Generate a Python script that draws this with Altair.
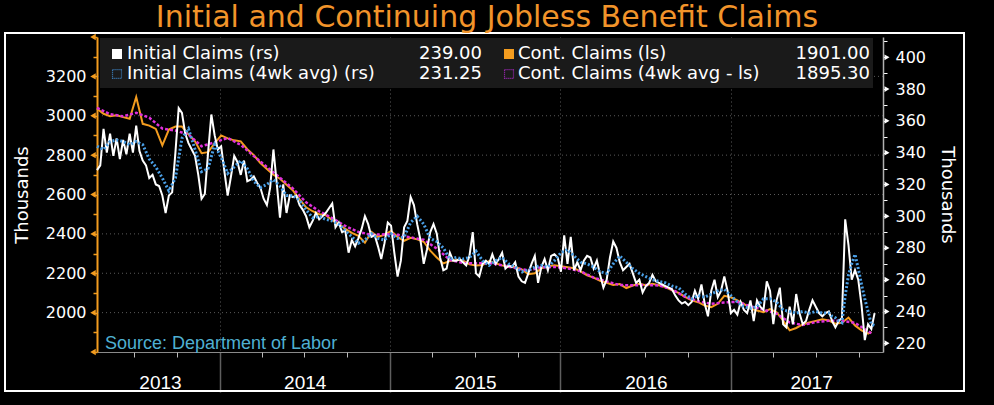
import altair as alt
import pandas as pd

# ---------------- data (thousands) ----------------
START = "2013-04-13"  # first weekly observation

# Initial claims, weekly (right scale)
initial_claims = [
    329, 332, 355, 340, 352, 338, 349, 336, 348, 339,
    352, 340, 357, 341, 335, 332, 324, 326, 320, 319,
    313, 302, 313, 315, 340, 368, 365, 352, 346, 342,
    338, 326, 311, 314, 340, 364, 351, 342, 344, 328,
    313, 325, 338, 334, 326, 335, 322, 323, 325, 321,
    318, 311, 307, 318, 342, 321, 299, 320, 302, 313,
    312, 313,
    307, 304, 300, 293, 297, 302, 298, 300,
    302, 305, 308, 293, 296, 290, 291, 277, 285, 281,
    286, 292, 300, 295, 287, 288, 281, 273, 283, 296,
    294, 277, 262, 272, 293, 297, 312, 307, 295, 285,
    270, 279, 290, 295, 289, 274, 266, 267, 277, 272,
    272, 273, 271, 269, 275, 290, 264, 262, 270,
    272, 270, 276, 270, 273, 277, 267, 269, 268, 271, 262,
    259, 258, 264, 270, 275, 258, 268, 273, 266, 275,
    276, 274, 265, 288, 270, 287, 266, 271, 266, 272,
    275, 274, 267, 272, 263, 255, 260, 274, 284, 280,
    271, 266, 268, 270, 264, 258, 260, 252, 256, 258,
    263, 259, 258, 257, 256, 255, 254, 250, 247, 245,
    246,
    244, 246, 253, 248, 257, 245, 237, 253, 260, 249,
    253, 262, 253, 239, 241, 238, 246, 241, 239, 247,
    234, 247, 243, 241, 259, 253, 232, 247, 255, 232,
    230, 243, 232, 251, 239, 232, 234, 241, 247, 243,
    239, 237, 239, 240, 234, 230, 234, 236, 298, 282,
    260, 266, 260, 244, 222, 232, 229, 239,
]

# Initial claims 4-week average: every 2 weeks, then weekly for the last 14 weeks
initial_avg_biweekly = [
    344, 342, 347, 348, 347, 345, 347, 345, 336, 331,
    324, 316, 324, 349, 355, 342, 328, 330, 345, 337,
    327, 331, 335, 330, 322, 318, 320, 323, 319, 313,
    313, 310, 304, 299, 300, 298, 297, 295, 291, 287,
    283, 285, 289, 286, 285, 289, 286, 287, 296, 300,
    295, 286, 284, 280, 273, 274, 273, 274, 278, 272,
    269, 272, 274, 270, 268, 265, 266, 268, 269, 268,
    272, 277, 279, 275, 271, 270, 268, 265, 264, 270,
    275, 271, 267, 264, 262, 260, 259, 258, 256, 255,
    251, 248, 250, 249, 251, 253, 254, 250, 246, 243,
    242, 243, 248, 248, 246, 241, 240, 239, 240, 239,
    240, 239, 239,
]
initial_avg_tail = [237, 236, 234, 233, 250, 263, 270, 276, 267, 257, 248, 240, 232, 231.25]

# Continuing claims: every 2 weeks, plus the latest week (left scale)
cont_claims_biweekly = [
    3036, 3010, 2998, 3002, 2993, 2985, 3095, 2959, 2950, 2933,
    2850, 2930, 2945, 2945, 2905, 2870, 2810, 2815, 2860, 2900,
    2885, 2875, 2870, 2830, 2800, 2760, 2730, 2700, 2680, 2650,
    2620, 2575, 2535, 2515, 2500, 2495, 2470, 2450, 2425, 2405,
    2390, 2355, 2410, 2385, 2395, 2415, 2385, 2365, 2380, 2372,
    2360, 2315, 2280, 2250, 2262, 2268, 2265, 2245, 2240, 2242,
    2262, 2250, 2240, 2232, 2232, 2220, 2195, 2200, 2225, 2235,
    2240, 2235, 2230, 2225, 2210, 2190, 2178, 2162, 2152, 2140,
    2145, 2125, 2138, 2147, 2139, 2147, 2139, 2130, 2113, 2100,
    2080, 2062, 2053, 2036, 2028, 2045, 2085, 2078, 2062, 2045,
    2020, 2011, 2002, 2018, 2002, 1960, 1910, 1922, 1940, 1950,
    1958, 1966, 1960, 1944, 1948, 1975, 1935, 1910, 1893,
]
cont_claims_last = 1901.0

# Continuing claims 4-week average: every 4 weeks, plus the latest week
cont_avg_4weekly = [
    3040, 3008, 2997, 3015, 2990, 2935, 2925, 2905, 2845, 2865,
    2887, 2852, 2795, 2740, 2685, 2630, 2560, 2515, 2480, 2440,
    2410, 2395, 2398, 2395, 2382, 2370, 2325, 2268, 2252, 2250,
    2252, 2241, 2226, 2215, 2230, 2232, 2225, 2210, 2178, 2158,
    2140, 2139, 2140, 2138, 2118, 2080, 2058, 2045, 2052, 2055,
    2032, 2015, 1995, 1950, 1937, 1952, 1959, 1958, 1948, 1905,
]
cont_avg_last = 1895.3

chart_title = "Initial and Continuing Jobless Benefit Claims"
source_note = "Source: Department of Labor"
legend_names = ["Initial Claims (rs)", "Cont. Claims (ls)",
                "Initial Claims (4wk avg) (rs)", "Cont. Claims (4wk avg - ls)"]
legend_values = ["239.00", "1901.00", "231.25", "1895.30"]

year_label_dates = ["2013-08-26", "2014-07-02", "2015-07-02", "2016-07-02", "2017-06-21"]
year_start_dates = ["2014-01-01", "2015-01-01", "2016-01-01", "2017-01-01"]
quarter_dates = ["2013-07-01", "2013-10-01",
                 "2014-04-01", "2014-07-01", "2014-10-01",
                 "2015-04-01", "2015-07-01", "2015-10-01",
                 "2016-04-01", "2016-07-01", "2016-10-01",
                 "2017-04-01", "2017-07-01", "2017-10-01"]
x_domain = ["2013-04-13", "2017-11-22"]

left_ticks = list(range(1800, 3401, 100))
left_major = list(range(1800, 3401, 200))
left_grid = list(range(2000, 3201, 200))
left_domain = [1800, 3400]
right_ticks = list(range(220, 411, 10))
right_major = list(range(220, 401, 20))
right_domain = [214.5, 412.8]

# ---------------- styling ----------------
ORANGE = "#f39c1f"
WHITE = "#ffffff"
BLUE = "#4a9fe6"
MAGENTA = "#e030dc"
TITLE_ORANGE = "#f2942a"
SOURCE_BLUE = "#4fb0d2"
FONT = "DejaVu Sans"
W, H = 786, 315


def dt(s):
    y, m, d = (int(p) for p in s.split("-"))
    return alt.DateTime(year=y, month=m, date=d)


start = pd.Timestamp(START)
df_init = pd.DataFrame({"date": pd.date_range(start, periods=len(initial_claims), freq="7D"),
                        "value": initial_claims})
avg_dates = list(pd.date_range(start, periods=len(initial_avg_biweekly), freq="14D")) + \
    list(pd.date_range(start + pd.Timedelta(weeks=238 - len(initial_avg_tail) + 1),
                       periods=len(initial_avg_tail), freq="7D"))
df_init_avg = pd.DataFrame({"date": avg_dates, "value": initial_avg_biweekly + initial_avg_tail})
cont_dates = list(pd.date_range(start, periods=len(cont_claims_biweekly), freq="14D")) + \
    [start + pd.Timedelta(weeks=237)]
df_cont = pd.DataFrame({"date": cont_dates, "value": cont_claims_biweekly + [cont_claims_last]})
cavg_dates = list(pd.date_range(start, periods=len(cont_avg_4weekly), freq="28D")) + \
    [start + pd.Timedelta(weeks=237)]
df_cont_avg = pd.DataFrame({"date": cavg_dates, "value": cont_avg_4weekly + [cont_avg_last]})

one = pd.DataFrame({"a": [0]})

xscale = alt.Scale(domain=[dt(s) for s in x_domain])
yl_scale = alt.Scale(domain=left_domain, nice=False, zero=False)
yr_scale = alt.Scale(domain=right_domain, nice=False, zero=False)

axis_years = alt.Axis(orient="bottom", values=[dt(s) for s in year_start_dates], labels=False,
                      ticks=True, tickSize=40, tickColor="#5e5e5e", tickWidth=1.5, grid=True,
                      gridColor="#5a5a5a", gridDash=[1, 3], gridWidth=1,
                      domain=True, domainColor="#8a8a8a", domainWidth=1, title=None)
axis_labels = alt.Axis(orient="bottom", values=[dt(s) for s in year_label_dates], format="%Y",
                       labels=True, ticks=False, grid=False, domain=False, labelColor=WHITE,
                       labelFont="Liberation Sans", labelFontSize=19, labelPadding=21,
                       labelFlush=False, labelOverlap=False, title=None)
axis_quarters = alt.Axis(orient="bottom", values=[dt(s) for s in quarter_dates], labels=False,
                         ticks=True, tickSize=5, tickColor="#bbbbbb", tickWidth=1, grid=False,
                         domain=False, title=None)

left_axis = alt.Axis(orient="left", values=left_ticks, format="d",
                     labelExpr="(datum.value % 200 == 0 && datum.value >= 2000 && datum.value <= 3200) ? datum.label : ''",
                     tickSize=4, tickColor=ORANGE, tickWidth=1.5, domainColor=ORANGE, domainWidth=2,
                     labelColor=WHITE, labelFont=FONT, labelFontSize=16, labelPadding=7,
                     labelOverlap=False, grid=False, title="Thousands", titleColor=WHITE,
                     titleFont=FONT, titleFontSize=18, titleFontWeight="normal", titlePadding=14)
right_axis = alt.Axis(orient="right", values=right_ticks, format="d",
                      labelExpr="datum.value % 20 == 0 ? datum.label : ''",
                      tickSize=4, tickColor=WHITE, tickWidth=1, domainColor="#b0b0b0", domainWidth=1.5,
                      labelColor=WHITE, labelFont=FONT, labelFontSize=16, labelPadding=8,
                      labelOverlap=False, grid=False, title="Thousands", titleColor=WHITE,
                      titleFont=FONT, titleFontSize=18, titleFontWeight="normal", titlePadding=12)

# frame around chart body
frame = alt.Chart(one).mark_rect(fillOpacity=0, stroke=WHITE, strokeWidth=2).encode(
    x=alt.value(-92), x2=alt.value(867), y=alt.value(-4), y2=alt.value(354))

title_text = alt.Chart(one).mark_text(
    text=chart_title, align="center", baseline="alphabetic", font=FONT, fontSize=30,
    color=TITLE_ORANGE).encode(x=alt.value(390), y=alt.value(-10))

grid_h = alt.Chart(pd.DataFrame({"g": left_grid})).mark_rule(
    color="#5a5a5a", strokeDash=[1, 3], strokeWidth=1).encode(
    y=alt.Y("g:Q", scale=yl_scale, axis=None))

legend_box = alt.Chart(one).mark_rect(color="#1a1a1a").encode(
    x=alt.value(3), x2=alt.value(776), y=alt.value(1), y2=alt.value(51))

cont_line = alt.Chart(df_cont).mark_line(color=ORANGE, strokeWidth=2).encode(
    x=alt.X("date:T", scale=xscale, axis=axis_years),
    y=alt.Y("value:Q", scale=yl_scale, axis=left_axis))
cont_avg_line = alt.Chart(df_cont_avg).mark_line(color=MAGENTA, strokeWidth=2.5, strokeDash=[3, 2]).encode(
    x=alt.X("date:T", scale=xscale, axis=axis_years),
    y=alt.Y("value:Q", scale=yl_scale, axis=left_axis))
left_tri = alt.Chart(pd.DataFrame({"value": left_major})).mark_point(
    shape="triangle-left", filled=True, color=ORANGE, size=40, opacity=1).encode(
    x=alt.value(-4), y=alt.Y("value:Q", scale=yl_scale, axis=left_axis))
left_group = alt.layer(cont_line, cont_avg_line, left_tri)

init_line = alt.Chart(df_init).mark_line(color=WHITE, strokeWidth=2).encode(
    x=alt.X("date:T", scale=xscale, axis=axis_labels),
    y=alt.Y("value:Q", scale=yr_scale, axis=right_axis))
init_avg_line = alt.Chart(df_init_avg).mark_line(color=BLUE, strokeWidth=3, strokeDash=[2, 2]).encode(
    x=alt.X("date:T", scale=xscale, axis=axis_labels),
    y=alt.Y("value:Q", scale=yr_scale, axis=right_axis))
right_tri = alt.Chart(pd.DataFrame({"value": right_major})).mark_point(
    shape="triangle-right", filled=True, color=WHITE, size=34, opacity=1).encode(
    x=alt.value(W + 4), y=alt.Y("value:Q", scale=yr_scale, axis=right_axis))
right_group = alt.layer(init_line, init_avg_line, right_tri)

qdf = pd.DataFrame({"date": pd.to_datetime(quarter_dates)})
quarter_layer = alt.Chart(qdf).mark_rule(opacity=0).encode(
    x=alt.X("date:T", scale=xscale, axis=axis_quarters))

# legend (Bloomberg style, inside the plot)
sq_x = [20, 412, 20, 412]
txt_x = [30, 421, 30, 421]
val_x = [385, 773, 385, 773]
row_y = [17, 17, 37, 37]
sq_color = [WHITE, ORANGE, "#3f86c8", "#a528c0"]
sq_filled = [True, True, False, False]
legend_layers = []
for i in range(4):
    if sq_filled[i]:
        sq = alt.Chart(one).mark_square(size=100, filled=True, color=sq_color[i], opacity=1)
    else:
        sq = alt.Chart(one).mark_square(size=80, filled=False, color=sq_color[i],
                                        strokeWidth=1.2, strokeDash=[1, 1], opacity=1)
    legend_layers.append(sq.encode(x=alt.value(sq_x[i]), y=alt.value(row_y[i])))
    legend_layers.append(alt.Chart(one).mark_text(
        text=legend_names[i], align="left", baseline="middle", font=FONT, fontSize=18,
        color=WHITE).encode(x=alt.value(txt_x[i]), y=alt.value(row_y[i])))
    legend_layers.append(alt.Chart(one).mark_text(
        text=legend_values[i], align="right", baseline="middle", font=FONT, fontSize=18,
        color=WHITE).encode(x=alt.value(val_x[i]), y=alt.value(row_y[i])))

source = alt.Chart(one).mark_text(
    text=source_note, align="left", baseline="middle",
    font="Liberation Sans", fontSize=18, color=SOURCE_BLUE).encode(
    x=alt.value(8), y=alt.value(307))

chart = alt.layer(
    frame, title_text, grid_h, legend_box, left_group, right_group, quarter_layer,
    *legend_layers, source
).resolve_scale(y="independent").resolve_axis(x="independent").properties(
    width=W, height=H,
    background="#000000",
    padding={"left": 97, "top": 37, "right": 994 - 97 - W, "bottom": 405 - 37 - H},
    autosize=alt.AutoSizeParams(type="none"),
).configure_view(strokeWidth=0)

chart.save("out.html", embed_options={"renderer": "svg", "actions": False})
